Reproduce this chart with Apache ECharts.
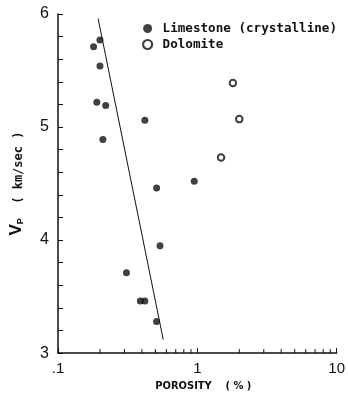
<!DOCTYPE html>
<html>
<head>
<meta charset="utf-8">
<script src="https://cdn.jsdelivr.net/npm/echarts@6/dist/echarts.min.js"></script>
<style>
  html, body { margin: 0; padding: 0; background: #fff; }
  #chart { width: 348px; height: 397px; }
</style>
</head>
<body>
<div id="chart"></div>
<script>
// P-wave velocity (km/sec) against porosity (%) for carbonate rocks
const limestonePorosity = [0.20, 0.18, 0.20, 0.19, 0.22, 0.42, 0.21, 0.51, 0.95, 0.54, 0.31, 0.39, 0.42, 0.51];
const limestoneVp       = [5.77, 5.71, 5.54, 5.22, 5.19, 5.06, 4.89, 4.46, 4.52, 3.95, 3.71, 3.46, 3.46, 3.28];
const dolomitePorosity  = [1.80, 2.00, 1.48];
const dolomiteVp        = [5.39, 5.07, 4.73];
const trendPorosity     = [0.194, 0.569];
const trendVp           = [5.96, 3.12];
const minorPorosityTicks = [0.2, 0.3, 0.4, 0.5, 0.6, 0.7, 0.8, 0.9, 2, 3, 4, 5, 6, 7, 8, 9];
const xTickLabels = ['.1', '1', '10'];
const seriesNames = ['Limestone (crystalline)', 'Dolomite'];

const ink = '#111';
const zip = (xs, ys) => xs.map((x, i) => [x, ys[i]]);

const chart = echarts.init(document.getElementById('chart'), null, { renderer: 'canvas' });

chart.setOption({
  backgroundColor: '#fff',
  animation: false,
  grid: { left: 57, right: 11, top: 14, bottom: 38 },
  legend: {
    orient: 'vertical',
    left: 137,
    top: 17,
    itemWidth: 20,
    itemHeight: 9,
    itemGap: 3,
    selectedMode: false,
    textStyle: { fontFamily: 'DejaVu Sans Mono', fontWeight: 'bold', fontSize: 12.6, color: ink },
    data: [
      { name: seriesNames[0], icon: 'circle', itemStyle: { color: ink } },
      { name: seriesNames[1], icon: 'circle', itemStyle: { color: '#fff', borderColor: ink, borderWidth: 2.2 } }
    ]
  },
  xAxis: {
    type: 'log',
    logBase: 10,
    min: 0.1,
    max: 10,
    name: 'POROSITY    ( % )',
    nameLocation: 'middle',
    nameGap: 21,
    nameTextStyle: { fontFamily: 'DejaVu Sans Condensed', fontWeight: 'bold', fontSize: 11, color: ink, padding: [0, 0, 0, 12] },
    axisLine: { lineStyle: { color: ink, width: 1.5 } },
    axisTick: { inside: true, length: 5, lineStyle: { color: ink } },
    axisLabel: {
      margin: 8,
      fontFamily: 'Liberation Sans',
      fontSize: 15,
      color: ink,
      formatter: v => xTickLabels[Math.round(Math.log10(v)) + 1]
    },
    splitLine: { show: false }
  },
  yAxis: {
    type: 'value',
    min: 3,
    max: 6,
    interval: 1,
    name: '{v|V}{p|P}{t|  ( km/sec )}',
    nameLocation: 'middle',
    nameGap: 33,
    nameTextStyle: {
      color: ink,
      rich: {
        v: { fontFamily: 'Liberation Sans', fontWeight: 'bold', fontSize: 17, color: ink, verticalAlign: 'bottom', lineHeight: 18 },
        p: { fontFamily: 'Liberation Sans', fontWeight: 'bold', fontSize: 9, color: ink, verticalAlign: 'bottom', lineHeight: 12 },
        t: { fontFamily: 'DejaVu Sans Mono', fontWeight: 'bold', fontSize: 12, color: ink, verticalAlign: 'bottom', lineHeight: 16 }
      }
    },
    axisLine: { show: true, lineStyle: { color: ink, width: 1.5 } },
    axisTick: { show: true, inside: true, length: 5, lineStyle: { color: ink } },
    minorTick: { show: true, splitNumber: 5, length: 5, lineStyle: { color: ink } },
    axisLabel: { margin: 9, fontFamily: 'Liberation Sans', fontSize: 16, color: ink },
    splitLine: { show: false }
  },
  series: [
    {
      name: 'trend',
      type: 'line',
      data: zip(trendPorosity, trendVp),
      showSymbol: false,
      silent: true,
      lineStyle: { color: ink, width: 1 }
    },
    {
      name: seriesNames[0],
      type: 'scatter',
      data: zip(limestonePorosity, limestoneVp),
      symbol: 'circle',
      symbolSize: 7,
      itemStyle: { color: ink }
    },
    {
      name: seriesNames[1],
      type: 'scatter',
      data: zip(dolomitePorosity, dolomiteVp),
      symbol: 'circle',
      symbolSize: 6.5,
      itemStyle: { color: '#fff', borderColor: ink, borderWidth: 2 }
    },
    {
      // logarithmic minor ticks along the porosity axis
      name: 'porosity ticks',
      type: 'custom',
      silent: true,
      data: minorPorosityTicks.map(p => [p, 3]),
      renderItem: (params, api) => {
        const pt = api.coord([api.value(0), api.value(1)]);
        return {
          type: 'line',
          shape: { x1: pt[0], y1: pt[1], x2: pt[0], y2: pt[1] - 4 },
          style: { stroke: ink, lineWidth: 1 }
        };
      }
    }
  ]
});
</script>
</body>
</html>
